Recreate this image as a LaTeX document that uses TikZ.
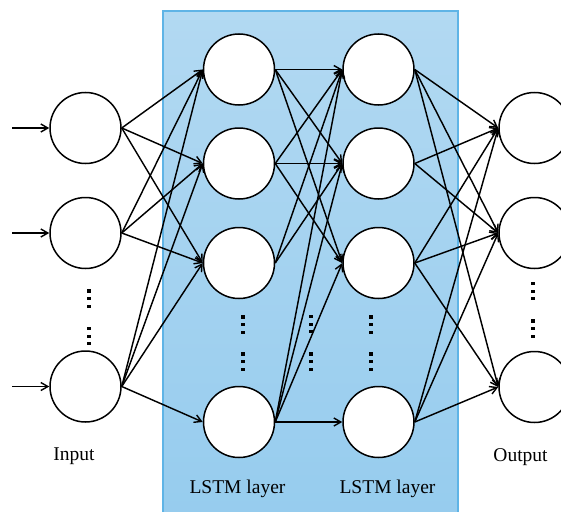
\documentclass[tikz,border=0pt]{standalone}
\usepackage{fontspec}
\setmainfont{Liberation Serif}
\usetikzlibrary{arrows.meta}
\definecolor{boxtop}{RGB}{178,217,242}
\definecolor{boxbot}{RGB}{150,204,238}
\definecolor{boxline}{RGB}{95,180,230}
\begin{document}
\begin{tikzpicture}[x=1pt,y=-1pt,
  neuron/.style={circle,draw=black,fill=white,line width=1.5pt,minimum size=71pt,inner sep=0pt},
  arr/.style={line width=1.45pt,-{Straight Barb[length=7pt,width=8pt,line width=1.4pt]}},
  lbl/.style={font=\fontsize{19.5}{22}\selectfont,anchor=base,inner sep=0pt}]
\useasboundingbox (0,0) rectangle (561,511);
\clip (0,0) rectangle (561,511);
% LSTM background panel
\path[top color=boxtop,bottom color=boxbot] (163,11) rectangle (458,520);
\draw[boxline,line width=1.5pt] (163,520) -- (163,11) -- (458,11) -- (458,520);
% neurons
\node[neuron] (in1) at (85.5,128) {};
\node[neuron] (in2) at (85.5,233) {};
\node[neuron] (in3) at (85.5,386.5) {};
\node[neuron] (n1) at (239,69.5) {};
\node[neuron] (n2) at (239,163.5) {};
\node[neuron] (n3) at (239,263) {};
\node[neuron] (n4) at (239,422) {};
\node[neuron] (m1) at (378.5,69.5) {};
\node[neuron] (m2) at (378.5,163.5) {};
\node[neuron] (m3) at (378.5,263) {};
\node[neuron] (m4) at (378.5,422) {};
\node[neuron] (o1) at (534.5,128) {};
\node[neuron] (o2) at (534.5,233) {};
\node[neuron] (o3) at (534.5,387) {};
% input arrows
\coordinate (s1) at (12,128);
\coordinate (s2) at (12,233);
\coordinate (s3) at (12,386.5);
\foreach \i in {1,2,3} \draw[arr] (s\i) -- (in\i.west);
% input -> LSTM 1
\foreach \a/\b in {in1/n1,in1/n2,in1/n3,in2/n1,in2/n2,in2/n3,in3/n1,in3/n2,in3/n3,in3/n4}
  \draw[arr] (\a.east) -- (\b.west);
% LSTM 1 -> LSTM 2
\foreach \a/\b in {n1/m1,n1/m2,n1/m3,n2/m1,n2/m2,n2/m3,n3/m1,n3/m2,n4/m1,n4/m2,n4/m3,n4/m4}
  \draw[arr] (\a.east) -- (\b.west);
% LSTM 2 -> output
\foreach \a/\b in {m1/o1,m1/o2,m1/o3,m2/o1,m2/o2,m3/o1,m3/o2,m3/o3,m4/o1,m4/o2,m4/o3}
  \draw[arr] (\a.east) -- (\b.west);
% vertical ellipses
\foreach \x/\ya/\yb in {89/291/328.5, 243/317/354, 311/316.5/354, 371/317/354, 533/283.5/321}{
  \foreach \d in {0,7.6,15.2}{
    \fill (\x-1.6,\ya+\d-1.6) rectangle (\x+1.6,\ya+\d+1.6);
    \fill (\x-1.6,\yb+\d-1.6) rectangle (\x+1.6,\yb+\d+1.6);
  }
}
% labels
\node[lbl] (linput) at (74,460.5) {Input};
\node[lbl] (loutput) at (520.5,461) {Output};
\node[lbl] (llstma) at (237.5,493.5) {LSTM layer};
\node[lbl] (llstmb) at (387.5,493.5) {LSTM layer};
\end{tikzpicture}
\end{document}
